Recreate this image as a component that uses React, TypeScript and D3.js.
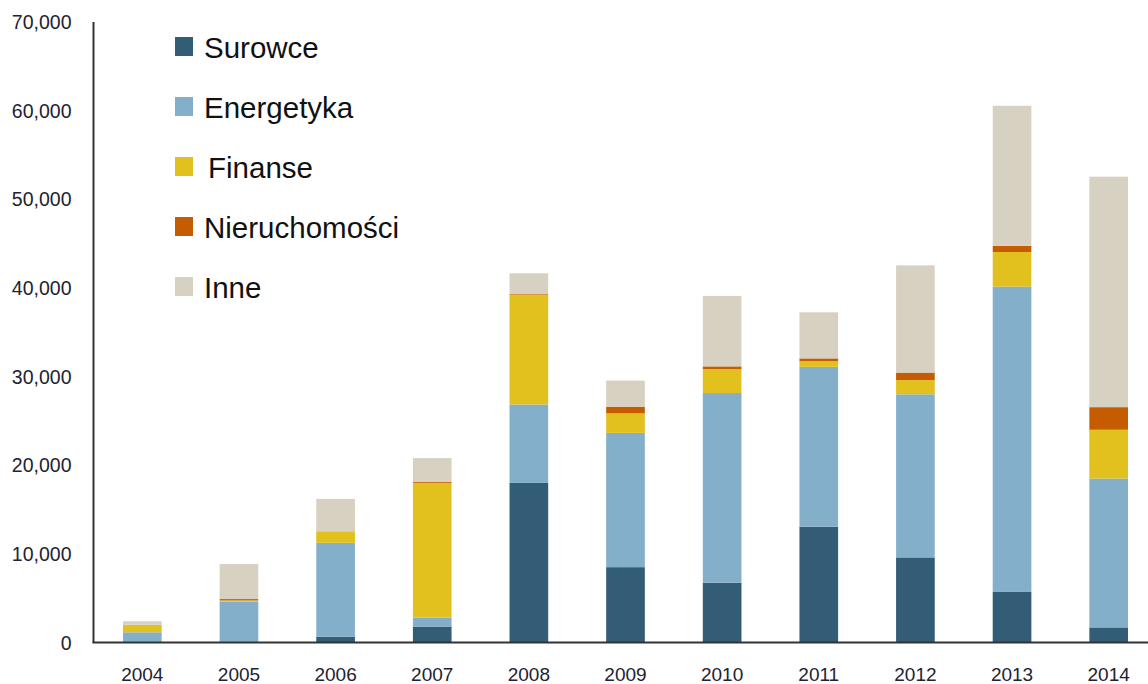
import React from "react";
import * as d3 from "d3";

const years = ["2004", "2005", "2006", "2007", "2008", "2009", "2010", "2011", "2012", "2013", "2014"];
const seriesNames = ["Surowce", "Energetyka", "Finanse", "Nieruchomości", "Inne"];
const surowce = [0, 0, 650, 1800, 18000, 8500, 6750, 13050, 9600, 5750, 1700];
const energetyka = [1150, 4600, 10600, 1000, 8850, 15150, 21400, 18050, 18400, 34400, 16800];
const finanse = [850, 150, 1300, 15200, 12400, 2200, 2700, 650, 1600, 3900, 5500];
const nieruchomosci = [0, 150, 0, 100, 100, 750, 300, 300, 850, 700, 2550];
const inne = [400, 3950, 3650, 2700, 2300, 2950, 7950, 5200, 12100, 15800, 26000];
const yTicks = [0, 10000, 20000, 30000, 40000, 50000, 60000, 70000];
const colors = ["#335C76", "#84AFCB", "#E2C01E", "#C55C00", "#D7D1C1"];

const W = 1148;
const H = 684;

export default function App() {
  const rows = years.map((y, i) => ({
    year: y,
    Surowce: surowce[i],
    Energetyka: energetyka[i],
    Finanse: finanse[i],
    "Nieruchomości": nieruchomosci[i],
    Inne: inne[i],
  }));
  const stacked = d3.stack<any>().keys(seriesNames)(rows);
  const x = d3.scaleBand().domain(years).range([94, 1157]).paddingInner(0.6).paddingOuter(0.3);
  const y = d3.scaleLinear().domain([0, 70000]).range([642.5, 22]);
  const fmt = d3.format(",");
  const font = "'Liberation Sans', Arial, sans-serif";

  return (
    <svg width={W} height={H} style={{ position: "absolute", left: 0, top: 0, background: "#fff" }}>
      <rect x={0} y={0} width={W} height={H} fill="#fff" />
      {stacked.map((s, si) => (
        <g key={s.key} fill={colors[si]}>
          {s.map((d, i) =>
            d[1] - d[0] > 0 ? (
              <rect
                key={i}
                x={x(years[i])}
                width={x.bandwidth()}
                y={y(d[1])}
                height={y(d[0]) - y(d[1])}
              />
            ) : null
          )}
        </g>
      ))}
      {/* axes */}
      <line x1={93.5} x2={93.5} y1={22} y2={643} stroke="#333" strokeWidth={2} />
      <line x1={92.5} x2={W} y1={642.5} y2={642.5} stroke="#333" strokeWidth={2} />
      {yTicks.map((t) => (
        <text
          key={t}
          x={71.5}
          y={y(t)}
          textAnchor="end"
          dominantBaseline="central"
          fontFamily={font}
          fontSize={19.5}
          fill="#222230"
        >
          {fmt(t)}
        </text>
      ))}
      {years.map((yr) => (
        <text
          key={yr}
          x={(x(yr) as number) + x.bandwidth() / 2}
          y={674}
          textAnchor="middle"
          dominantBaseline="central"
          fontFamily={font}
          fontSize={19}
          fill="#222230"
        >
          {yr}
        </text>
      ))}
      {/* legend */}
      {seriesNames.map((n, i) => (
        <g key={n} transform={`translate(175, ${46.5 + i * 60})`}>
          <rect x={0} y={-9.5} width={18} height={19} fill={colors[i]} />
          <text
            x={n === "Finanse" ? 33 : 29}
            y={1}
            dominantBaseline="central"
            fontFamily={font}
            fontSize={29.5}
            fill="#111"
          >
            {n}
          </text>
        </g>
      ))}
    </svg>
  );
}
